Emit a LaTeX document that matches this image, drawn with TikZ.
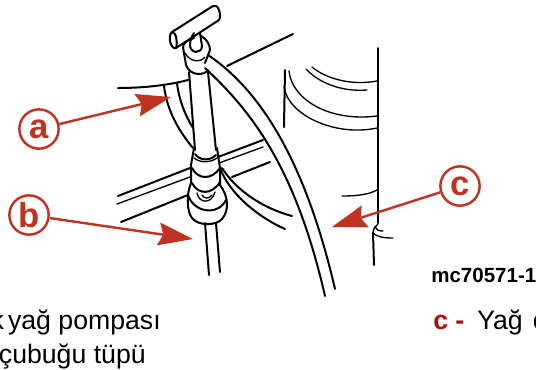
\documentclass[tikz,border=0pt]{standalone}
\usepackage{fontspec}
\setmainfont{Liberation Sans}
\usetikzlibrary{arrows.meta}
\definecolor{calloutred}{HTML}{C0311F}
\definecolor{keyred}{HTML}{B00C0C}
\tikzset{
  inkline/.style={line width=1.5pt,black,line cap=round,line join=round},
  inkthin/.style={line width=1pt,black,line cap=round,line join=round},
  callout/.style={circle,draw=calloutred,line width=1.8pt,minimum size=29.5pt,inner sep=0pt,
    text=calloutred,font=\fontsize{26}{26}\selectfont\bfseries},
  pointer/.style={draw=calloutred,line width=1.8pt,
    -{Stealth[length=26pt,width=17pt,inset=3.5pt,fill=calloutred]}},
  legend/.style={inner sep=0pt,font=\fontsize{20}{20}\selectfont}
}
\begin{document}
\begin{tikzpicture}[x=0.75pt,y=-0.75pt]
\clip (0,0) rectangle (536,369);
% tank and hoses behind
\draw[inkline] (118,88) .. controls (140,88) and (165,86) .. (188,80);
\draw[inkline] (227,66) -- (293,34);
\draw[inkline] (164,86) .. controls (167,110) and (178,130) .. (193,148);
\draw[inkline] (177,83) .. controls (179,100) and (185,115) .. (193,128);
\draw[inkline] (118,196) -- (190,168);
\draw[inkthin] (117,204) -- (190,177);
\draw[inkline] (121,222) -- (188,195);
\draw[inkline] (218,157) -- (263,140);
\draw[inkthin] (219,163) -- (263,147);
\draw[inkline] (232,177) -- (270,162);
\draw[inkline] (220,168) .. controls (230,195) and (260,218) .. (285,229);
\draw[inkline] (222,168) .. controls (236,190) and (262,208) .. (292,216);
% pump handle
\draw[inkline] (172,32) -- (213,6) .. controls (218,3) and (222,15) .. (219,20) -- (176,48)
  .. controls (171,50) and (167,36) .. (172,32);
\draw[inkline] (172,32) .. controls (176,32) and (178,42) .. (176,48);
\draw[inkline] (194,33) .. controls (191,37) and (190,42) .. (190,45) .. controls (190,54) and (202,54) .. (202,46) -- (200,33);
\draw[inkline] (194,38) .. controls (188,40) and (183,43) .. (183,47) -- (186,65)
  .. controls (190,76) and (204,76) .. (208,70);
\draw[inkline] (201,36) .. controls (207,39) and (210,45) .. (210,50) -- (205,63);
\draw[inkthin] (185,53) .. controls (190,62) and (200,63) .. (205,57);
% tube
\draw[inkline] (189,72) -- (195,150);
\draw[inkline] (208,72) -- (216,150);
\draw[inkline] (205,223) -- (209,275);
\draw[inkline] (216,223) -- (220,272);
% fitting
\draw[inkline] (194,148) -- (191,165) -- (191,183);
\draw[inkline] (195,154) .. controls (200,161) and (210,161) .. (216,155);
\draw[inkthin] (194,158) .. controls (200,163) and (210,163) .. (217,158);
\draw[inkline] (217,148) -- (220,168) -- (220,185);
\draw[inkline] (192,168) .. controls (198,180) and (212,180) .. (220,168);
\draw[inkline] (192,183) .. controls (198,195) and (212,195) .. (220,182);
\draw[inkline] (191,183) .. controls (186,195) and (187,212) .. (192,218)
  .. controls (198,226) and (216,226) .. (222,219) .. controls (229,211) and (229,197) .. (220,185);
\draw[inkline] (188,195) .. controls (194,213) and (218,216) .. (226,200);
\draw[inkthin] (197,193) .. controls (199,204) and (212,204) .. (215,192);
\draw[inkthin] (202,195) .. controls (204,199) and (209,199) .. (212,195);
% hose
\draw[inkline] (208,55) .. controls (260,90) and (305,160) .. (335,289);
\draw[inkline] (205,68) .. controls (250,110) and (295,165) .. (325,296);
% right part
\draw[inkline] (378,48) -- (378,223);
\draw[inkline] (373,233) -- (374,265);
\draw[inkthin] (373,233) .. controls (373,228) and (376,226) .. (378,224);
\draw[inkthin] (375,227) .. controls (376,230) and (379,231) .. (383,231);
\draw[inkthin] (373,233) .. controls (377,237) and (384,238) .. (393,238);
\draw[inkthin] (312,67) .. controls (325,78) and (350,86) .. (377,81);
\draw[inkthin] (306,69) .. controls (318,82) and (340,92) .. (367,90);
\draw[inkthin] (289,71) .. controls (292,100) and (330,122) .. (377,116);
\draw[inkthin] (284,87) .. controls (288,115) and (335,137) .. (377,128);
\draw[inkline] (285,70) -- (284,127);
\draw[inkthin] (342,196) .. controls (355,196) and (368,195) .. (377,190);
% callouts
\node[callout] (a) at (39,129) {a};
\node[callout] (b) at (29,215) {b};
\node[callout] (c) at (460,186) {c};
\coordinate (atip) at (171,97);
\coordinate (btip) at (193,239);
\coordinate (ctip) at (332,227);
\draw[pointer] (a) -- (atip);
\draw[pointer] (b) -- (btip);
\draw[pointer] (c) -- (ctip);
% texts
\node[inner sep=0pt,anchor=base west,font=\fontsize{15.4}{16}\selectfont\bfseries] (code) at (431,282) {mc70571-1};
\node[legend,anchor=base east] (pump) at (161,329) {k\hspace{-2.5pt} yağ pompası};
\node[legend,anchor=base east] (tube) at (146,363) {çubuğu tüpü};
\node[legend,anchor=base west,text=keyred,font=\fontsize{20}{20}\selectfont\bfseries] (keyc) at (433,329) {c -};
\node[legend,anchor=base west] (oil) at (477,329) {Yağ\hspace{2pt} ç};
\end{tikzpicture}
\end{document}
